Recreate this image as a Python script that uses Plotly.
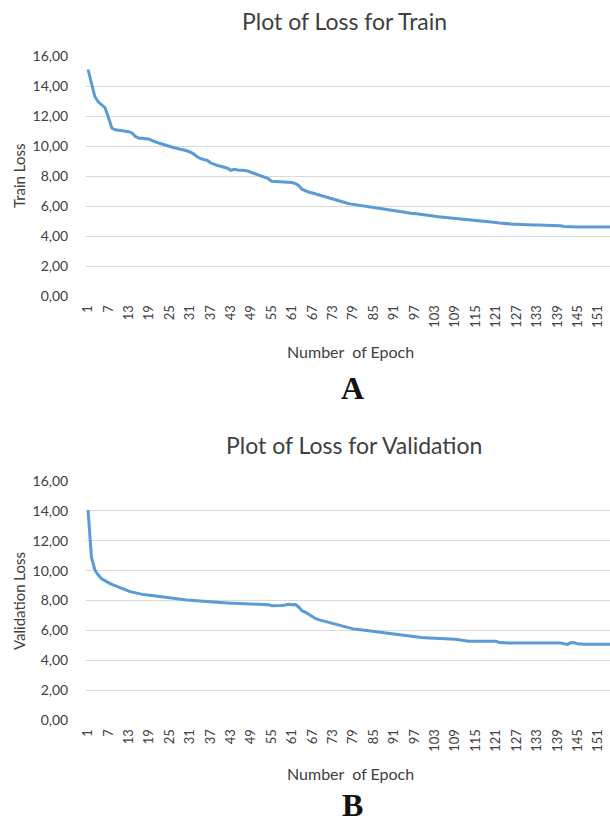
import plotly.graph_objects as go

W, H = 610, 824

epochs = list(range(1, 156))

train_loss = [
    15.10, 14.10, 13.30, 12.95, 12.75, 12.55, 11.90, 11.20, 11.08, 11.03,
    11.00, 10.98, 10.95, 10.85, 10.62, 10.52, 10.52, 10.50, 10.45, 10.35,
    10.25, 10.18, 10.12, 10.03, 9.95, 9.90, 9.85, 9.80, 9.77, 9.68,
    9.60, 9.48, 9.30, 9.17, 9.10, 9.05, 8.88, 8.78, 8.70, 8.65,
    8.60, 8.52, 8.38, 8.45, 8.40, 8.40, 8.37, 8.33, 8.25, 8.15,
    8.07, 7.98, 7.90, 7.82, 7.65, 7.63, 7.62, 7.62, 7.62, 7.60,
    7.57, 7.50, 7.35, 7.10, 7.00, 6.92, 6.87, 6.80, 6.72, 6.65,
    6.58, 6.50, 6.44, 6.37, 6.32, 6.26, 6.20, 6.14, 6.10, 6.06,
    6.03, 6.00, 5.98, 5.93, 5.87, 5.86, 5.84, 5.80, 5.77, 5.73,
    5.70, 5.67, 5.63, 5.60, 5.56, 5.52, 5.50, 5.46, 5.42, 5.39,
    5.36, 5.33, 5.31, 5.29, 5.27, 5.24, 5.21, 5.19, 5.17, 5.15,
    5.12, 5.09, 5.07, 5.05, 5.03, 5.01, 4.99, 4.96, 4.94, 4.92,
    4.90, 4.87, 4.84, 4.82, 4.80, 4.79, 4.78, 4.76, 4.74, 4.74,
    4.73, 4.73, 4.73, 4.73, 4.73, 4.72, 4.72, 4.71, 4.70, 4.68,
    4.64, 4.62, 4.61, 4.61, 4.60, 4.60, 4.60, 4.60, 4.60, 4.60,
    4.60, 4.60, 4.60, 4.60, 4.60,
]

val_loss = [
    14.05, 10.90, 10.05, 9.70, 9.45, 9.30, 9.20, 9.08, 8.98, 8.88,
    8.78, 8.70, 8.63, 8.56, 8.50, 8.45, 8.41, 8.38, 8.35, 8.31,
    8.28, 8.25, 8.21, 8.18, 8.15, 8.13, 8.11, 8.09, 8.06, 8.04,
    8.02, 8.00, 7.99, 7.98, 7.95, 7.92, 7.90, 7.89, 7.88, 7.87,
    7.85, 7.84, 7.82, 7.81, 7.80, 7.78, 7.76, 7.75, 7.75, 7.75,
    7.75, 7.75, 7.75, 7.72, 7.65, 7.64, 7.65, 7.66, 7.70, 7.75,
    7.72, 7.73, 7.55, 7.30, 7.20, 7.05, 6.90, 6.78, 6.70, 6.64,
    6.58, 6.52, 6.45, 6.38, 6.30, 6.24, 6.19, 6.14, 6.10, 6.07,
    6.04, 6.00, 5.97, 5.93, 5.90, 5.88, 5.85, 5.82, 5.79, 5.76,
    5.73, 5.70, 5.66, 5.63, 5.60, 5.57, 5.55, 5.53, 5.52, 5.51,
    5.50, 5.50, 5.50, 5.49, 5.46, 5.44, 5.42, 5.41, 5.40, 5.37,
    5.33, 5.30, 5.28, 5.27, 5.27, 5.27, 5.27, 5.27, 5.27, 5.27,
    5.27, 5.18, 5.16, 5.16, 5.16, 5.16, 5.16, 5.16, 5.16, 5.16,
    5.16, 5.16, 5.16, 5.16, 5.16, 5.16, 5.16, 5.16, 5.16, 5.16,
    5.10, 5.06, 5.18, 5.17, 5.10, 5.07, 5.07, 5.07, 5.07, 5.07,
    5.07, 5.07, 5.07, 5.07, 5.07,
]

x_tick_vals = list(range(1, 156, 6))
x_tick_text = [str(v) for v in x_tick_vals]
y_tick_vals = [0, 2, 4, 6, 8, 10, 12, 14, 16]

titles = ["Plot of Loss for Train", "Plot of Loss for Validation"]
y_titles = ["Train Loss", "Validation Loss"]
x_title = "Number  of Epoch"
panel_labels = ["A", "B"]

LINE = "#5B9BD5"
GRID = "#D9D9D9"
FONT = "Lato, 'Open Sans', sans-serif"
TXT = "#404040"


def py(px):
    return 1 - px / H


fig = go.Figure()
fig.add_trace(go.Scatter(x=epochs, y=train_loss, mode="lines",
                         line=dict(color=LINE, width=3), xaxis="x", yaxis="y",
                         showlegend=False))
fig.add_trace(go.Scatter(x=epochs, y=val_loss, mode="lines",
                         line=dict(color=LINE, width=3), xaxis="x2", yaxis="y2",
                         showlegend=False))

xdom = [86 / W, 1.0]
xaxis_common = dict(
    domain=xdom, range=[0.4, 154.5], tickmode="array", tickvals=x_tick_vals,
    ticktext=x_tick_text, tickangle=-90, showgrid=False, zeroline=False,
    showline=False, ticks="outside", ticklen=3, tickcolor="rgba(0,0,0,0)",
    tickfont=dict(family=FONT, size=13, color=TXT), fixedrange=True,
    automargin=False,
)
yaxis_common = dict(
    range=[0, 16], tickmode="array", tickvals=y_tick_vals, tickformat=".2f",
    showgrid=True, gridcolor=GRID, gridwidth=1, zeroline=False, showline=False,
    ticks="outside", ticklen=14, tickcolor="rgba(0,0,0,0)",
    tickfont=dict(family=FONT, size=14, color=TXT), fixedrange=True,
    automargin=False,
)

fig.update_layout(
    width=W, height=H, margin=dict(l=0, r=0, t=0, b=0, autoexpand=False),
    paper_bgcolor="white", plot_bgcolor="white", separators=",.",
    xaxis=dict(xaxis_common, anchor="y"),
    yaxis=dict(yaxis_common, domain=[py(296), py(56)], anchor="x"),
    xaxis2=dict(xaxis_common, anchor="y2"),
    yaxis2=dict(yaxis_common, domain=[py(720), py(481)], anchor="x2"),
)

ann = []
ann.append(dict(text=titles[0], x=344 / W, y=py(21), font=dict(size=23)))
ann.append(dict(text=titles[1], x=354 / W, y=py(445), font=dict(size=23)))
ann.append(dict(text=y_titles[0], x=19 / W, y=py(176), textangle=-90, font=dict(size=15)))
ann.append(dict(text=y_titles[1], x=19 / W, y=py(601), textangle=-90, font=dict(size=15)))
ann.append(dict(text=x_title, x=350 / W, y=py(351), font=dict(size=16)))
ann.append(dict(text=x_title, x=350 / W, y=py(773), font=dict(size=16)))
for a in ann:
    a.update(xref="paper", yref="paper", showarrow=False, xanchor="center",
             yanchor="middle")
    a["font"].update(family=FONT, color=TXT)
for lbl, yy in zip(panel_labels, [388, 805]):
    ann.append(dict(text="<b>" + lbl + "</b>", x=352 / W, y=py(yy), xref="paper",
                    yref="paper", showarrow=False, xanchor="center", yanchor="middle",
                    font=dict(family="'Liberation Serif', serif", size=32, color="#111111")))
fig.update_layout(annotations=ann)

fig.write_html(
    "out.html",
    config={"displayModeBar": False},
    post_script="document.body.style.margin='0';document.body.style.overflow='hidden';",
)
